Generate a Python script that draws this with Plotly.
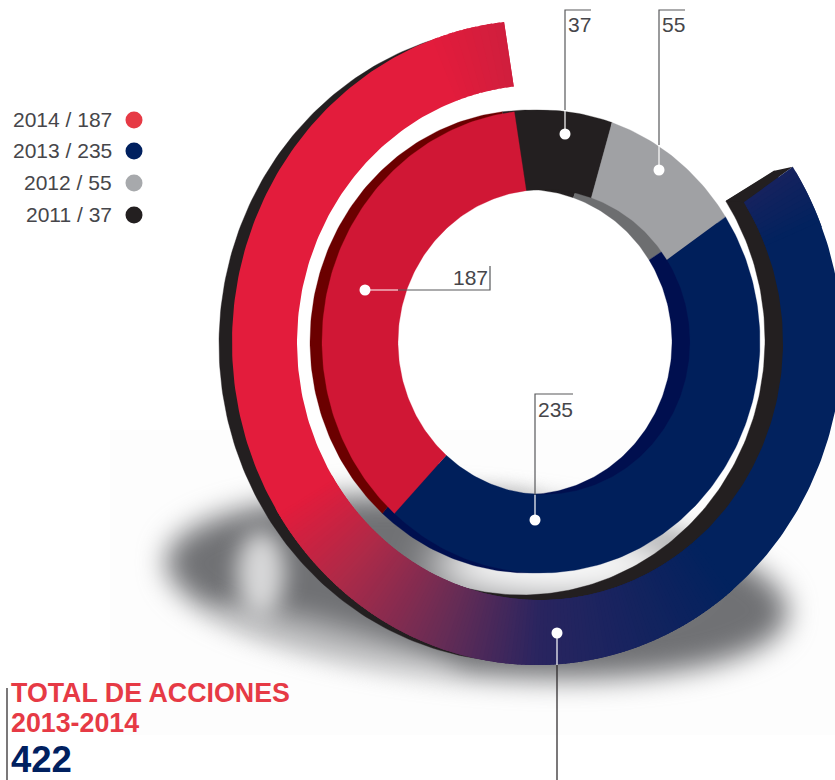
import numpy as np
import plotly.graph_objects as go

years = ["2014", "2013", "2012", "2011"]
actions = [187, 235, 55, 37]
legend_colors = ["#e63a45", "#00205f", "#a7a9ac", "#231f20"]
ring_order = [3, 2, 1, 0]  # clockwise from the top: 2011, 2012, 2013, 2014
front_colors = {0: "#d01735", 1: "#001f5b", 2: "#a0a1a4", 3: "#231f20"}
back_colors = {0: "#6b0000", 1: "#000f4f", 2: "#6d6e70", 3: "#231f20"}
total_years = "2013-2014"
total_title = "TOTAL DE ACCIONES"
total_value = actions[0] + actions[1]

INNER_START = 353.0
OUTER_START = 57.0
OUTER_SPAN = 296.8

FRONT_IN = dict(cx=541, cy=341.5, rx=219, ry=231.5, cxi=544, cyi=342, rxi=146, ryi=152.5)
BACK_IN = dict(cx=529, cy=341.5, rx=219, ry=231.5, cxi=526, cyi=342, rxi=146, ryi=152.5)
FRONT_OUT = dict(cx=537, cy=342.5, rx=305, ry=322.5, cxi=540, cyi=342.5, rxi=243, ryi=257.5)
BACK_OUT = dict(cx=521, cy=344, rx=302, ry=318, cxi=522, cyi=340, rxi=243, ryi=255)

GRAD = [(57, "#16235f"), (68, "#02225e"), (140, "#02225e"), (180, "#2a2560"),
        (200, "#6a2d55"), (222, "#b02a48"), (238, "#e31c3c"), (340, "#e31c3c"), (353.8, "#d01f3e")]


def rgb(h):
    return np.array([int(h[i:i + 2], 16) for i in (1, 3, 5)], dtype=float)


def grad_color(t):
    angs = [g[0] for g in GRAD]
    c = [np.interp(t, angs, [rgb(g[1])[k] for g in GRAD]) for k in range(3)]
    return "rgb(%d,%d,%d)" % tuple(c)


def wedge(a0, a1, g, step=1.0):
    n = max(2, int(abs(a1 - a0) / step) + 2)
    t = np.radians(np.linspace(a0, a1, n))
    xo = g["cx"] + g["rx"] * np.sin(t)
    yo = g["cy"] - g["ry"] * np.cos(t)
    xi = g["cxi"] + g["rxi"] * np.sin(t[::-1])
    yi = g["cyi"] - g["ryi"] * np.cos(t[::-1])
    return np.r_[xo, xi, xo[0]], np.r_[yo, yi, yo[0]]


fig = go.Figure()


def add_poly(x, y, color, lw=0.0):
    fig.add_trace(go.Scatter(x=x, y=y, mode="lines", fill="toself", fillcolor=color,
                             line=dict(color=color, width=lw), hoverinfo="skip", showlegend=False))


def add_wedge(a0, a1, g, color, lw=0.0):
    x, y = wedge(a0, a1, g)
    add_poly(x, y, color, lw)


# outer ring: extrusion, the cap that joins it to the face, then the gradient face
add_wedge(OUTER_START, OUTER_START + OUTER_SPAN, BACK_OUT, "#231f20", 0.4)
t = np.radians(OUTER_START)
s, c = np.sin(t), np.cos(t)
add_poly([BACK_OUT["cx"] + BACK_OUT["rx"] * s, FRONT_OUT["cx"] + FRONT_OUT["rx"] * s,
          FRONT_OUT["cxi"] + FRONT_OUT["rxi"] * s, BACK_OUT["cxi"] + BACK_OUT["rxi"] * s],
         [BACK_OUT["cy"] - BACK_OUT["ry"] * c, FRONT_OUT["cy"] - FRONT_OUT["ry"] * c,
          FRONT_OUT["cyi"] - FRONT_OUT["ryi"] * c, BACK_OUT["cyi"] - BACK_OUT["ryi"] * c], "#231f20")

END = OUTER_START + OUTER_SPAN
edges = list(np.arange(OUTER_START, 68, 1.0)) + list(np.arange(140, 238, 0.75)) + list(np.arange(340, END, 1.5)) + [END]
edges = sorted(set(edges + [68.0, 238.0]))
for i, (a0, a1) in enumerate(zip(edges[:-1], edges[1:])):
    # each slice runs slightly under the next one so that no seam shows
    add_wedge(a0, min(a1 + 1.0, END), FRONT_OUT, grad_color((a0 + a1) / 2))

# inner ring, angles follow the values
total = sum(actions)
for geom, cols in ((BACK_IN, back_colors), (FRONT_IN, front_colors)):
    a = INNER_START
    for idx in ring_order:
        span = actions[idx] / total * 360
        add_wedge(a, a + span, geom, cols[idx], 0.3)
        a += span

# leader lines: (x, y, colour)
GRAY = "#58595b"
leaders = [
    ([565, 565], [134, 110], "white"), ([565, 565, 591], [110, 10, 10], GRAY),
    ([659, 659], [170, 145], "white"), ([659, 659, 685], [145, 10, 10], GRAY),
    ([365, 398], [290, 290], "white"), ([398, 490, 490], [290, 290, 266], GRAY),
    ([535, 535], [520, 495], "white"), ([535, 535, 573], [495, 394, 394], GRAY),
    ([557, 557], [633, 665], "white"), ([557, 557], [665, 780], "#231f20"),
    ([7, 7], [688, 780], "#231f20"),
]
for lx, ly, col in leaders:
    fig.add_trace(go.Scatter(x=lx, y=ly, mode="lines", line=dict(color=col, width=1.2),
                             hoverinfo="skip", showlegend=False))

fig.add_trace(go.Scatter(x=[565, 659, 365, 535, 557], y=[134, 170, 290, 520, 633], mode="markers",
                         marker=dict(color="white", size=11), hoverinfo="skip", showlegend=False))
# legend dots
fig.add_trace(go.Scatter(x=[134] * 4, y=[120, 151, 183, 215], mode="markers",
                         marker=dict(color=legend_colors, size=17), hoverinfo="skip", showlegend=False))

TXT = "#46464a"
FONT = "Liberation Sans"
ann = []


def label(x, y, text, size=21, color=TXT, anchor="left", bold=False):
    ann.append(dict(x=x, y=y, xref="x", yref="y", text=f"<b>{text}</b>" if bold else text, showarrow=False,
                    xanchor=anchor, yanchor="middle", font=dict(family=FONT, size=size, color=color),
                    borderpad=0, borderwidth=0))


for yr, v, ly in zip(years, actions, [119, 150, 182, 214]):
    label(112, ly, f"{yr} / {v}", anchor="right")
label(568, 24, str(actions[3]))
label(662, 24, str(actions[2]))
label(488, 277, str(actions[0]), anchor="right")
label(538, 409, str(actions[1]))
label(11, 693, total_title, size=26.8, color="#e63a45", bold=True)
label(11, 723, total_years, size=26.8, color="#e63a45", bold=True)
label(11, 759, str(total_value), size=36.5, color="#00205f", bold=True)

# floor shadow: a few ellipses, softened with a blur set after the page is drawn
shapes = [dict(type="rect", x0=110, x1=835, y0=430, y1=735, fillcolor="#fdfdfd", line_width=0, layer="below")]
blur = {}


def soft(cx, cy, rx, ry, color, op, sigma, rot=0.0):
    r = np.radians(rot)
    u = np.radians(np.arange(0, 360, 4))
    px = cx + rx * np.cos(u) * np.cos(r) - ry * np.sin(u) * np.sin(r)
    py = cy + rx * np.cos(u) * np.sin(r) + ry * np.sin(u) * np.cos(r)
    path = "M" + "L".join(f"{a:.1f},{b:.1f}" for a, b in zip(px, py)) + "Z"
    blur[len(shapes)] = sigma
    shapes.append(dict(type="path", path=path, fillcolor=color, opacity=op, line_width=0, layer="below"))


soft(477, 587, 312, 88, "#707174", 1.0, 14, rot=5)
soft(335, 642, 130, 20, "#ffffff", 0.4, 12, rot=15)
soft(261, 573, 24, 42, "#ffffff", 0.72, 11)
soft(560, 565, 130, 38, "#ffffff", 1.0, 22)
soft(490, 500, 50, 12, "#c8c8c8", 1.0, 8)

fig.update_layout(
    width=835, height=780, margin=dict(l=0, r=0, t=0, b=0),
    paper_bgcolor="white", plot_bgcolor="white", showlegend=False,
    xaxis=dict(range=[0, 835], visible=False, fixedrange=True),
    yaxis=dict(range=[780, 0], visible=False, fixedrange=True),
    annotations=ann, shapes=shapes,
)
js_blur = "{" + ",".join(f"{k}:{v}" for k, v in blur.items()) + "}"
fig.write_html("out.html", config=dict(displayModeBar=False),
               post_script="document.body.style.margin='0';document.documentElement.style.overflow='hidden';"
                           "var b=" + js_blur + ";document.querySelectorAll('.shapelayer path').forEach(function(p){"
                           "var s=b[p.getAttribute('data-index')];if(s){p.style.filter='blur('+s+'px)';}});")
